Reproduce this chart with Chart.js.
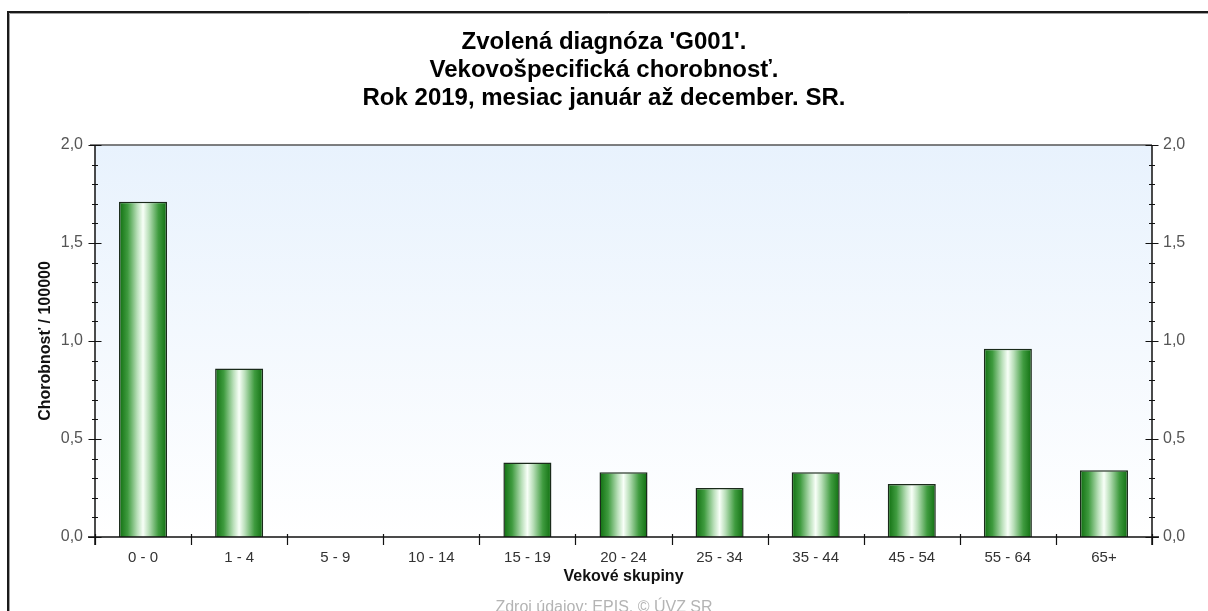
<!DOCTYPE html>
<html>
<head>
<meta charset="utf-8">
<script src="https://cdn.jsdelivr.net/npm/chart.js@4/dist/chart.umd.min.js"></script>
<style>
body{margin:0;background:#fff;}
#wrap{width:1208px;height:611px;position:relative;}
</style>
</head>
<body>
<div id="wrap"><canvas id="morbChart"></canvas></div>
<script>
/* data */
const ageGroups = ["0 - 0","1 - 4","5 - 9","10 - 14","15 - 19","20 - 24","25 - 34","35 - 44","45 - 54","55 - 64","65+"];
const morbidity = [1.71, 0.86, 0, 0, 0.38, 0.33, 0.25, 0.33, 0.27, 0.96, 0.34];
const titleLines = ["Zvolená diagnóza 'G001'.","Vekovošpecifická chorobnosť.","Rok 2019, mesiac január až december. SR."];
const yTitle = "Chorobnosť / 100000";
const xTitle = "Vekové skupiny";
const sourceNote = "Zdroj údajov: EPIS, © ÚVZ SR";
const yMin = 0, yMax = 2, yStep = 0.1, yLabelEvery = 5;

const FONT = "'Liberation Sans', Arial, sans-serif";

function fmtTick(v){
  const k = Math.round(v / yStep);
  if(k % yLabelEvery !== 0) return "";
  return v.toFixed(1).replace(".", ",");
}

/* frame, plot background and bar gradients */
const decor = {
  id:"decor",
  beforeDraw(chart){
    const {ctx, chartArea:a} = chart;
    ctx.save();
    ctx.fillStyle = "#fff";
    ctx.fillRect(0,0,chart.width,chart.height);
    // outer frame
    ctx.strokeStyle = "#1a1a1a";
    ctx.lineWidth = 2;
    ctx.beginPath();
    ctx.moveTo(8, chart.height);
    ctx.lineTo(8, 12);
    ctx.lineTo(chart.width, 12);
    ctx.stroke();
    ctx.strokeStyle = "#a0a0a0";
    ctx.lineWidth = 1;
    ctx.beginPath();
    ctx.moveTo(9.5, chart.height);
    ctx.lineTo(9.5, 13.5);
    ctx.lineTo(chart.width, 13.5);
    ctx.stroke();
    // plot background
    const g = ctx.createLinearGradient(0, a.top, 0, a.bottom);
    g.addColorStop(0, "#e8f2fd");
    g.addColorStop(1, "#ffffff");
    ctx.fillStyle = g;
    ctx.fillRect(a.left, a.top, a.right - a.left, a.bottom - a.top);
    ctx.restore();
  },
  beforeDatasetsDraw(chart){
    const {ctx} = chart;
    chart.getDatasetMeta(0).data.forEach(bar=>{
      const {x, width} = bar.getProps(["x","width"], true);
      const g = ctx.createLinearGradient(x - width/2, 0, x + width/2, 0);
      g.addColorStop(0, "#0f6e0f");
      g.addColorStop(0.18, "#3f9b3f");
      g.addColorStop(0.38, "#b9dfb9");
      g.addColorStop(0.5, "#f8fff8");
      g.addColorStop(0.62, "#b9dfb9");
      g.addColorStop(0.82, "#3f9b3f");
      g.addColorStop(1, "#0f6e0f");
      bar.options = Object.assign({}, bar.options, {backgroundColor:g});
    });
  },
  afterDatasetsDraw(chart){
    const {ctx, chartArea:a, scales} = chart;
    const y = scales.y, x = scales.x;
    ctx.save();
    // top border
    ctx.strokeStyle = "#555";
    ctx.lineWidth = 1.5;
    ctx.beginPath();
    ctx.moveTo(a.left - 5, a.top);
    ctx.lineTo(a.right, a.top);
    ctx.stroke();
    // axes
    ctx.strokeStyle = "#111";
    ctx.beginPath();
    ctx.moveTo(a.left, a.top);
    ctx.lineTo(a.left, a.bottom + 8);
    ctx.moveTo(a.right, a.top);
    ctx.lineTo(a.right, a.bottom + 8);
    ctx.moveTo(a.left - 7, a.bottom);
    ctx.lineTo(a.right + 7, a.bottom);
    ctx.stroke();
    // y ticks on both sides
    ctx.lineWidth = 1.2;
    ctx.beginPath();
    y.ticks.forEach(t=>{
      const py = Math.round(y.getPixelForValue(t.value)) + 0.5;
      const major = Math.round(t.value / yStep) % yLabelEvery === 0;
      const h = major ? 6.5 : 3;
      [a.left, a.right].forEach(px=>{
        ctx.moveTo(px - h, py);
        ctx.lineTo(px + h, py);
      });
    });
    // x ticks at category boundaries
    for(let i = 0; i <= ageGroups.length; i++){
      const px = Math.round(x.getPixelForValue(i - 0.5)) + 0.5;
      ctx.moveTo(px, a.bottom - 3);
      ctx.lineTo(px, a.bottom + 8);
    }
    ctx.stroke();
    ctx.restore();
  }
};

new Chart(document.getElementById("morbChart"),{
  type:"bar",
  data:{
    labels:ageGroups,
    datasets:[{
      data:morbidity,
      backgroundColor:()=>"#3f9b3f",
      borderColor:"#1a2a1a",
      borderWidth:1.5,
      barPercentage:0.5,
      categoryPercentage:1
    }]
  },
  options:{
    responsive:true,
    maintainAspectRatio:false,
    animation:false,
    layout:{padding:{left:0,right:0,top:0,bottom:0}},
    plugins:{
      legend:{display:false},
      tooltip:{enabled:false},
      title:{
        display:true,
        text:titleLines,
        color:"#000",
        font:{family:FONT,size:24,weight:"bold",lineHeight:28/24},
        padding:{top:28,bottom:33}
      },
      subtitle:{
        display:true,
        position:"bottom",
        text:sourceNote,
        color:"#b4b4b4",
        font:{family:FONT,size:16,lineHeight:18/16},
        padding:{top:6,bottom:-6}
      }
    },
    scales:{
      x:{
        grid:{display:false,drawTicks:false},
        border:{display:false},
        ticks:{color:"#333",font:{family:FONT,size:15},padding:12,autoSkip:false,maxRotation:0},
        title:{display:true,text:xTitle,color:"#111",font:{family:FONT,size:16,weight:"bold",lineHeight:1.2},padding:{top:0,bottom:7}},
        afterFit(s){ s.height = 56; }
      },
      y:{
        position:"left",
        min:yMin,max:yMax,
        grid:{display:false,drawTicks:false},
        border:{display:false},
        ticks:{stepSize:yStep,autoSkip:false,color:"#555",font:{family:FONT,size:16},padding:12,callback:fmtTick},
        title:{display:true,text:yTitle,color:"#111",font:{family:FONT,size:16,weight:"bold",lineHeight:1.2},padding:{top:36,bottom:0}},
        afterFit(s){ s.width = 95; }
      },
      y2:{
        position:"right",
        min:yMin,max:yMax,
        grid:{display:false,drawTicks:false},
        border:{display:false},
        ticks:{stepSize:yStep,autoSkip:false,color:"#555",font:{family:FONT,size:16},padding:11,callback:fmtTick},
        afterFit(s){ s.width = 56; }
      }
    }
  },
  plugins:[decor]
});
</script>
</body>
</html>
